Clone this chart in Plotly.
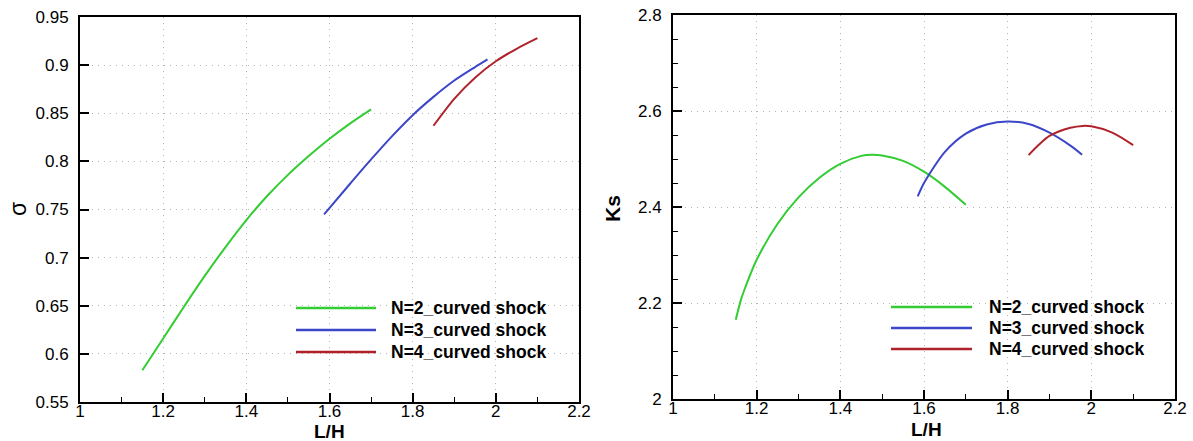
import plotly.graph_objects as go

W, H = 1193, 441

# ---- data: sigma vs L/H ----
sig_n2_x = [1.15, 1.2, 1.25, 1.3, 1.35, 1.4, 1.45, 1.5, 1.55, 1.6, 1.65, 1.7]
sig_n2_y = [0.583, 0.616, 0.649, 0.681, 0.711, 0.739, 0.764, 0.786, 0.8055, 0.8235, 0.8395, 0.854]
sig_n3_x = [1.587, 1.65, 1.7, 1.75, 1.8, 1.85, 1.9, 1.95, 1.98]
sig_n3_y = [0.745, 0.777, 0.802, 0.826, 0.848, 0.867, 0.884, 0.898, 0.906]
sig_n4_x = [1.85, 1.9, 1.95, 2.0, 2.05, 2.1]
sig_n4_y = [0.837, 0.865, 0.887, 0.904, 0.917, 0.928]

# ---- data: Ks vs L/H ----
ks_n2_x = [1.15, 1.1625, 1.175, 1.2, 1.25, 1.3, 1.35, 1.4, 1.45, 1.475, 1.5, 1.55, 1.6, 1.65, 1.7]
ks_n2_y = [2.165, 2.207, 2.2375, 2.29, 2.365, 2.42, 2.461, 2.49, 2.5065, 2.509, 2.5075, 2.496, 2.4735, 2.442, 2.4045]
ks_n3_x = [1.585, 1.6, 1.65, 1.7, 1.75, 1.8, 1.85, 1.9, 1.95, 1.978]
ks_n3_y = [2.422, 2.45, 2.515, 2.553, 2.572, 2.578, 2.573, 2.555, 2.528, 2.509]
ks_n4_x = [1.85, 1.875, 1.9, 1.95, 1.98, 2.0, 2.05, 2.1]
ks_n4_y = [2.508, 2.53, 2.548, 2.565, 2.569, 2.568, 2.555, 2.529]

names = ["N=2_curved shock", "N=3_curved shock", "N=4_curved shock"]
colors = ["#33cc33", "#3c46c8", "#b0222a"]

def px(x):
    return x / W

def py(y):
    return 1 - y / H

fig = go.Figure()

left = [(sig_n2_x, sig_n2_y), (sig_n3_x, sig_n3_y), (sig_n4_x, sig_n4_y)]
right = [(ks_n2_x, ks_n2_y), (ks_n3_x, ks_n3_y), (ks_n4_x, ks_n4_y)]
for (x, y), n, c in zip(left, names, colors):
    fig.add_trace(go.Scatter(x=x, y=y, mode="lines", name=n,
                             line=dict(color=c, width=2, shape="spline", smoothing=0.8),
                             xaxis="x", yaxis="y", showlegend=False))
for (x, y), n, c in zip(right, names, colors):
    fig.add_trace(go.Scatter(x=x, y=y, mode="lines", name=n,
                             line=dict(color=c, width=2, shape="spline", smoothing=0.8),
                             xaxis="x2", yaxis="y2", showlegend=False))

tickfont = dict(family="Liberation Sans, Arial", size=17, color="black")
common = dict(showline=True, linewidth=2, linecolor="black", mirror=True, ticks="inside",
              tickwidth=2, tickcolor="black", ticklen=9, showgrid=True, gridcolor="#b4b4b4",
              griddash="1px,5px", gridwidth=1, zeroline=False, tickfont=tickfont, automargin=False)
minor_x = dict(dtick=0.1, ticks="inside", ticklen=5, tickwidth=1, tickcolor="black", showgrid=False)

fig.update_layout(
    width=W, height=H, margin=dict(l=0, r=0, t=0, b=0, autoexpand=False),
    paper_bgcolor="white", plot_bgcolor="white", showlegend=False,
    xaxis=dict(domain=[px(80), px(579)], range=[1, 2.2], dtick=0.2, tick0=1, anchor="y",
               minor=minor_x, ticklabelstandoff=-7, **common),
    yaxis=dict(domain=[py(402), py(17)], range=[0.55, 0.95], dtick=0.05, tick0=0.55, anchor="x",
               ticklabelstandoff=6, **common),
    xaxis2=dict(domain=[px(673), px(1175)], range=[1, 2.2], dtick=0.2, tick0=1, anchor="y2",
                minor=minor_x, ticklabelstandoff=-7, **common),
    yaxis2=dict(domain=[py(399), py(15)], range=[2.0, 2.8], dtick=0.2, tick0=2.0, anchor="x2",
                minor=dict(dtick=0.05, ticks="inside", ticklen=5, tickwidth=1, tickcolor="black", showgrid=False),
                ticklabelstandoff=6, **common),
)

# axis titles
ann = [
    dict(x=px(329), y=py(431), text="<b>L/H</b>", size=19),
    dict(x=px(926), y=py(429), text="<b>L/H</b>", size=19),
    dict(x=px(18), y=py(209), text="σ", textangle=-90, size=23),
    dict(x=px(613), y=py(209), text="<b>Ks</b>", textangle=-90, size=21),
]
for a in ann:
    size = a.pop("size")
    fig.add_annotation(xref="paper", yref="paper", showarrow=False,
                       font=dict(family="Liberation Sans, Arial", size=size, color="black"),
                       xanchor="center", yanchor="middle", **a)

# legends (inside each panel)
leg_font = dict(family="Liberation Sans, Arial", size=17.5, color="black")
legends = [
    (296, 376, 389, [308, 330, 352]),
    (891, 972, 987, [307, 328, 349]),
]
for x0, x1, xt, ys in legends:
    for yy, n, c in zip(ys, names, colors):
        fig.add_shape(type="line", xref="paper", yref="paper", x0=px(x0), x1=px(x1), y0=py(yy), y1=py(yy),
                      line=dict(color=c, width=2.5))
        fig.add_annotation(xref="paper", yref="paper", x=px(xt), y=py(yy), text="<b>" + n + "</b>",
                           showarrow=False, xanchor="left", yanchor="middle", font=leg_font)

fig.write_html("out.html")
